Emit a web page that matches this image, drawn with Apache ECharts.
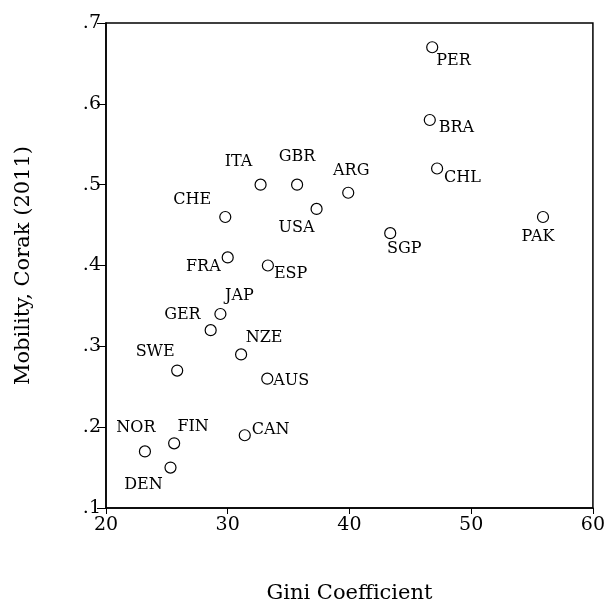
<!DOCTYPE html>
<html>
<head>
<meta charset="utf-8">
<script src="https://cdn.jsdelivr.net/npm/echarts@6/dist/echarts.min.js"></script>
<style>html,body{margin:0;padding:0;background:#fff;overflow:hidden;width:100%;height:100%}#c{width:100vw;height:100vh;overflow:hidden}</style>
</head>
<body>
<div id="c"></div>
<script>
// ---- data ----
const countries = ['PER','BRA','CHL','PAK','SGP','ARG','USA','GBR','ITA','CHE','FRA','ESP','JAP','GER','NZE','SWE','AUS','CAN','FIN','NOR','DEN'];
const gini      = [46.8, 46.6, 47.2, 55.9, 43.35, 39.9, 37.3, 35.7, 32.7, 29.8, 30.0, 33.3, 29.4, 28.6, 31.1, 25.85, 33.25, 31.4, 25.6, 23.2, 25.3];
const mobility  = [0.67, 0.58, 0.52, 0.46, 0.44, 0.49, 0.47, 0.50, 0.50, 0.46, 0.41, 0.40, 0.34, 0.32, 0.29, 0.27, 0.26, 0.19, 0.18, 0.17, 0.15];
const xTicks = [20, 30, 40, 50, 60];
const yTicks = [0.1, 0.2, 0.3, 0.4, 0.5, 0.6, 0.7];

// ---- label placement (style only) ----
const labelPlace = {
  PER:[4,14,'left'], BRA:[9,8,'left'], CHL:[7,9,'left'], PAK:[-5,20,'center'],
  SGP:[14,16,'center'], ARG:[3,-22,'center'], USA:[-20,19,'center'], GBR:[0,-28,'center'],
  ITA:[-22,-23,'center'], CHE:[-33,-17,'center'], FRA:[-7,9,'right'], ESP:[6,8,'left'],
  JAP:[19,-18,'center'], GER:[-10,-15,'right'], NZE:[23,-17,'center'], SWE:[-22,-19,'center'],
  AUS:[6,2,'left'], CAN:[7,-5,'left'], FIN:[19,-16,'center'], NOR:[-9,-24,'center'], DEN:[-27,17,'center']
};

const FONT = 'DejaVu Serif';
const points = countries.map((c, i) => {
  const p = labelPlace[c];
  return {
    name: c,
    value: [gini[i], mobility[i]],
    label: { show: true, formatter: c, position: 'inside', align: p[2], verticalAlign: 'middle', offset: [p[0], p[1]] }
  };
});

const chart = echarts.init(document.getElementById('c'), null, { renderer: 'canvas' });
chart.setOption({
  animation: false,
  backgroundColor: '#fff',
  grid: { left: '17.43%', top: '3.78%', right: '1.97%', bottom: '15.76%', show: true, borderColor: '#000', borderWidth: 1.5, backgroundColor: 'transparent' },
  xAxis: {
    type: 'value', min: xTicks[0], max: xTicks[xTicks.length - 1], interval: 10,
    name: 'Gini Coefficient', nameLocation: 'middle', nameGap: 75,
    nameTextStyle: { fontFamily: FONT, fontSize: 21, color: '#000' },
    axisLine: { show: true, lineStyle: { color: '#000', width: 1.5 } },
    axisTick: { show: true, length: 6, inside: false, lineStyle: { color: '#000', width: 1 } },
    axisLabel: { fontFamily: FONT, fontSize: 19, color: '#000', margin: 8 },
    splitLine: { show: false }
  },
  yAxis: {
    type: 'value', min: yTicks[0], max: yTicks[yTicks.length - 1], interval: 0.1,
    name: 'Mobility, Corak (2011)', nameLocation: 'middle', nameGap: 72,
    nameTextStyle: { fontFamily: FONT, fontSize: 21, color: '#000' },
    axisLine: { show: true, lineStyle: { color: '#000', width: 1.5 } },
    axisTick: { show: true, length: 9, inside: false, lineStyle: { color: '#000', width: 1 } },
    axisLabel: { fontFamily: FONT, fontSize: 19, color: '#000', margin: 5,
      formatter: v => v.toFixed(1).replace(/^0/, '') },
    splitLine: { show: false }
  },
  series: [{
    type: 'scatter',
    symbol: 'circle',
    symbolSize: 11,
    itemStyle: { color: '#fff', borderColor: '#000', borderWidth: 1.2, opacity: 1 },
    label: { fontFamily: FONT, fontSize: 16, color: '#000' },
    emphasis: { disabled: true },
    data: points
  }]
});
</script>
</body>
</html>
